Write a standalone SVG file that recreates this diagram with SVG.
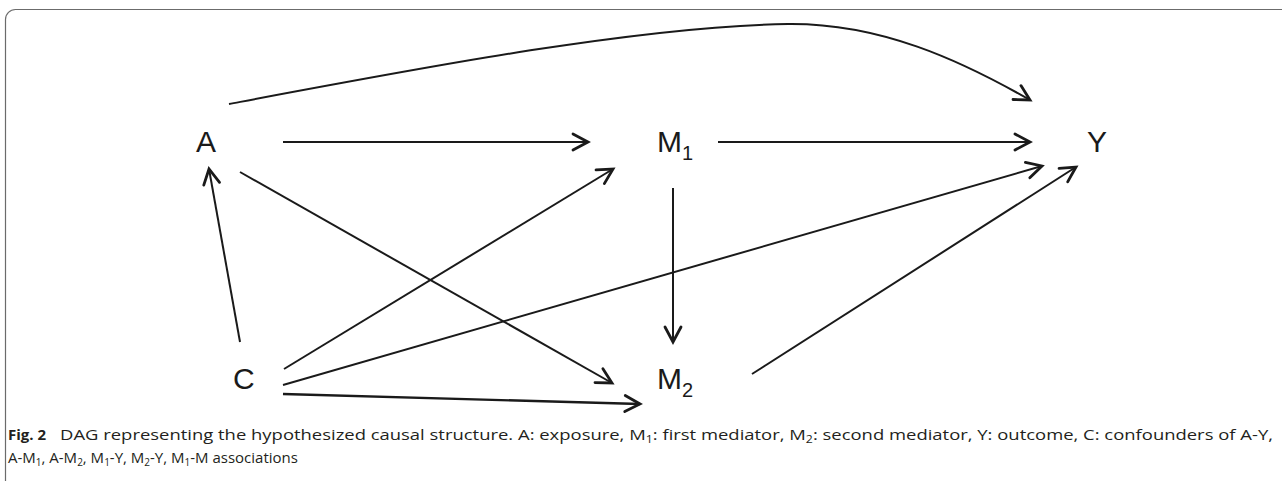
<svg xmlns="http://www.w3.org/2000/svg" width="1282" height="481" viewBox="0 0 1282 481">
<style>
.node{font-family:"Liberation Sans",Arial,sans-serif;font-size:30px;fill:#1a1a1a}
.sub{font-size:20px}
.edge{fill:none;stroke:#1a1a1a;stroke-width:2}
.cap{font-family:"Open Sans","Liberation Sans",sans-serif;font-size:15px;fill:#231f20}
.capsub{font-size:10px}
</style>
<defs>
<marker id="ah" markerUnits="userSpaceOnUse" markerWidth="40" markerHeight="40" refX="0" refY="0" viewBox="-20 -20 40 40" orient="auto" overflow="visible">
<path d="M-15,-8 L0,0 L-15,8" fill="none" stroke="#1a1a1a" stroke-width="2.8" stroke-linejoin="miter" stroke-linecap="round"/>
</marker>
</defs>
<rect x="5.5" y="9.5" width="1300" height="500" rx="10" ry="10" fill="none" stroke="#6b6b6b" stroke-width="1.2"/>
<g id="connectors">
<path class="edge" d="M229,104 C420,68 640,26 788,24 C880,23 960,60 1030,100" marker-end="url(#ah)"/>
<path class="edge" d="M283,142 L588,142" marker-end="url(#ah)"/>
<path class="edge" d="M718,142 L1030,142" marker-end="url(#ah)"/>
<path class="edge" d="M240,172 L612,383" marker-end="url(#ah)"/>
<path class="edge" d="M284,369 L613,169" marker-end="url(#ah)"/>
<path class="edge" d="M240,342 L209,169" marker-end="url(#ah)"/>
<path class="edge" d="M283,385 L1042,166" marker-end="url(#ah)"/>
<path class="edge" d="M283,394 L640,404" marker-end="url(#ah)" style="stroke-width:2.4"/>
<path class="edge" d="M673,188 L673,342" marker-end="url(#ah)"/>
<path class="edge" d="M752,374 L1076,167" marker-end="url(#ah)"/>
</g>
<g id="node-A"><text class="node" x="196" y="152">A</text></g>
<g id="node-M1"><text class="node" x="657" y="152">M<tspan class="sub" dy="8">1</tspan></text></g>
<g id="node-Y"><text class="node" x="1087" y="152">Y</text></g>
<g id="node-C"><text class="node" x="233" y="389">C</text></g>
<g id="node-M2"><text class="node" x="657" y="389">M<tspan class="sub" dy="8">2</tspan></text></g>
<g id="caption">
<text class="cap" x="8" y="440" font-weight="bold">Fig. 2</text>
<text class="cap" x="60" y="440" textLength="1213" lengthAdjust="spacingAndGlyphs">DAG representing the hypothesized causal structure. A: exposure, M<tspan class="capsub" dy="3">1</tspan><tspan dy="-3">: first mediator, M</tspan><tspan class="capsub" dy="3">2</tspan><tspan dy="-3">: second mediator, Y: outcome, C: confounders of A-Y,</tspan></text>
<text class="cap" x="8" y="463">A-M<tspan class="capsub" dy="3">1</tspan><tspan dy="-3">, A-M</tspan><tspan class="capsub" dy="3">2</tspan><tspan dy="-3">, M</tspan><tspan class="capsub" dy="3">1</tspan><tspan dy="-3">-Y, M</tspan><tspan class="capsub" dy="3">2</tspan><tspan dy="-3">-Y, M</tspan><tspan class="capsub" dy="3">1</tspan><tspan dy="-3">-M associations</tspan></text>
</g>
</svg>
